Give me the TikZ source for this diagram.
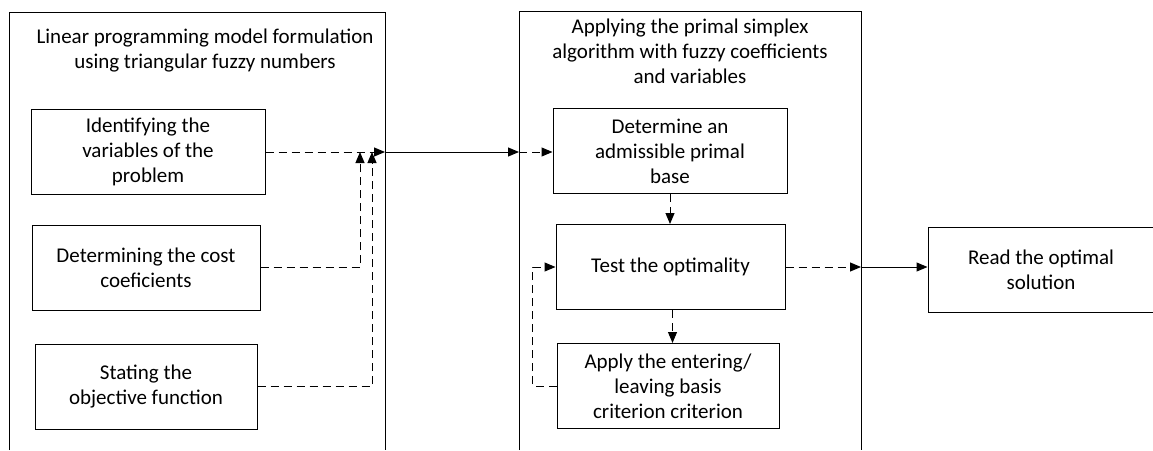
\documentclass[tikz,border=0pt]{standalone}
\usepackage{fontspec}
\setmainfont{Carlito}
\usetikzlibrary{arrows.meta}

\begin{document}
\begin{tikzpicture}[
    x=1pt, y=-1pt,
    >={Triangle[length=11pt,width=9pt]},
    line width=1pt,
    stepbox/.style={draw, rectangle, minimum width=#1, minimum height=85pt, align=center, inner sep=2pt, font=\fontsize{21}{25}\selectfont},
    stepbox/.default=230pt,
    title/.style={align=center, font=\fontsize{21}{25}\selectfont},
    dsh/.style={->, dash pattern=on 8pt off 5pt},
    sol/.style={->}
]
    \useasboundingbox (0,0) rectangle (1153,450);

    % Containers (open at the bottom)
    \draw (9,450) -- (9,12) -- (385,12) -- (385,450);
    \draw (519,450) -- (519,11) -- (861,11) -- (861,450);

    \node[title] (t_model) at (205,51) {Linear programming model formulation\\using triangular fuzzy numbers};
    \node[title] (t_simplex) at (690,51) {Applying the primal simplex\\algorithm with fuzzy coefficients\\and variables};

    % Model formulation steps
    \node[stepbox=234pt] (vars) at (148,151.5) {Identifying the\\variables of the\\problem};
    \node[stepbox=228pt] (cost) at (146,267.5) {Determining the cost\\coeficients};
    \node[stepbox=222pt] (obj) at (146,386.5) {Stating the\\objective function};

    % Simplex steps
    \node[stepbox=234pt] (base) at (670,151) {Determine an\\admissible primal\\base};
    \node[stepbox=229pt] (opt) at (670.5,267) {Test the optimality};
    \node[stepbox=222pt] (crit) at (668,386) {Apply the entering/\\leaving basis\\criterion criterion};

    % Result
    \node[stepbox=226pt] (read) at (1041,269.5) {Read the optimal\\solution};

    % Junctions on the container borders
    \coordinate (j_left) at (385,152);
    \coordinate (j_right) at (519,152);
    \coordinate (j_out) at (861,267);
    \coordinate (m_cost) at (360,152);
    \coordinate (m_obj) at (372,152);

    \draw[dsh] (vars.east |- j_left) -- (j_left);
    \draw[dsh] (cost.east) -| (m_cost);
    \draw[dsh] (obj.east) -| (m_obj);
    \draw[sol] (j_left) -- (j_right);
    \draw[dsh] (j_right) -- (base.west |- j_right);

    \draw[dsh] (base.south) -- (base.south |- opt.north);
    \draw[dsh] (opt.south) ++(2,0) -- (crit.north -| 672.5,0);
    \draw[dsh] (crit.west) -- ++(-24,0) |- (opt.west);

    \draw[dsh] (opt.east) -- (j_out);
    \draw[sol] (j_out) -- (read.west |- j_out);

\end{tikzpicture}
\end{document}
